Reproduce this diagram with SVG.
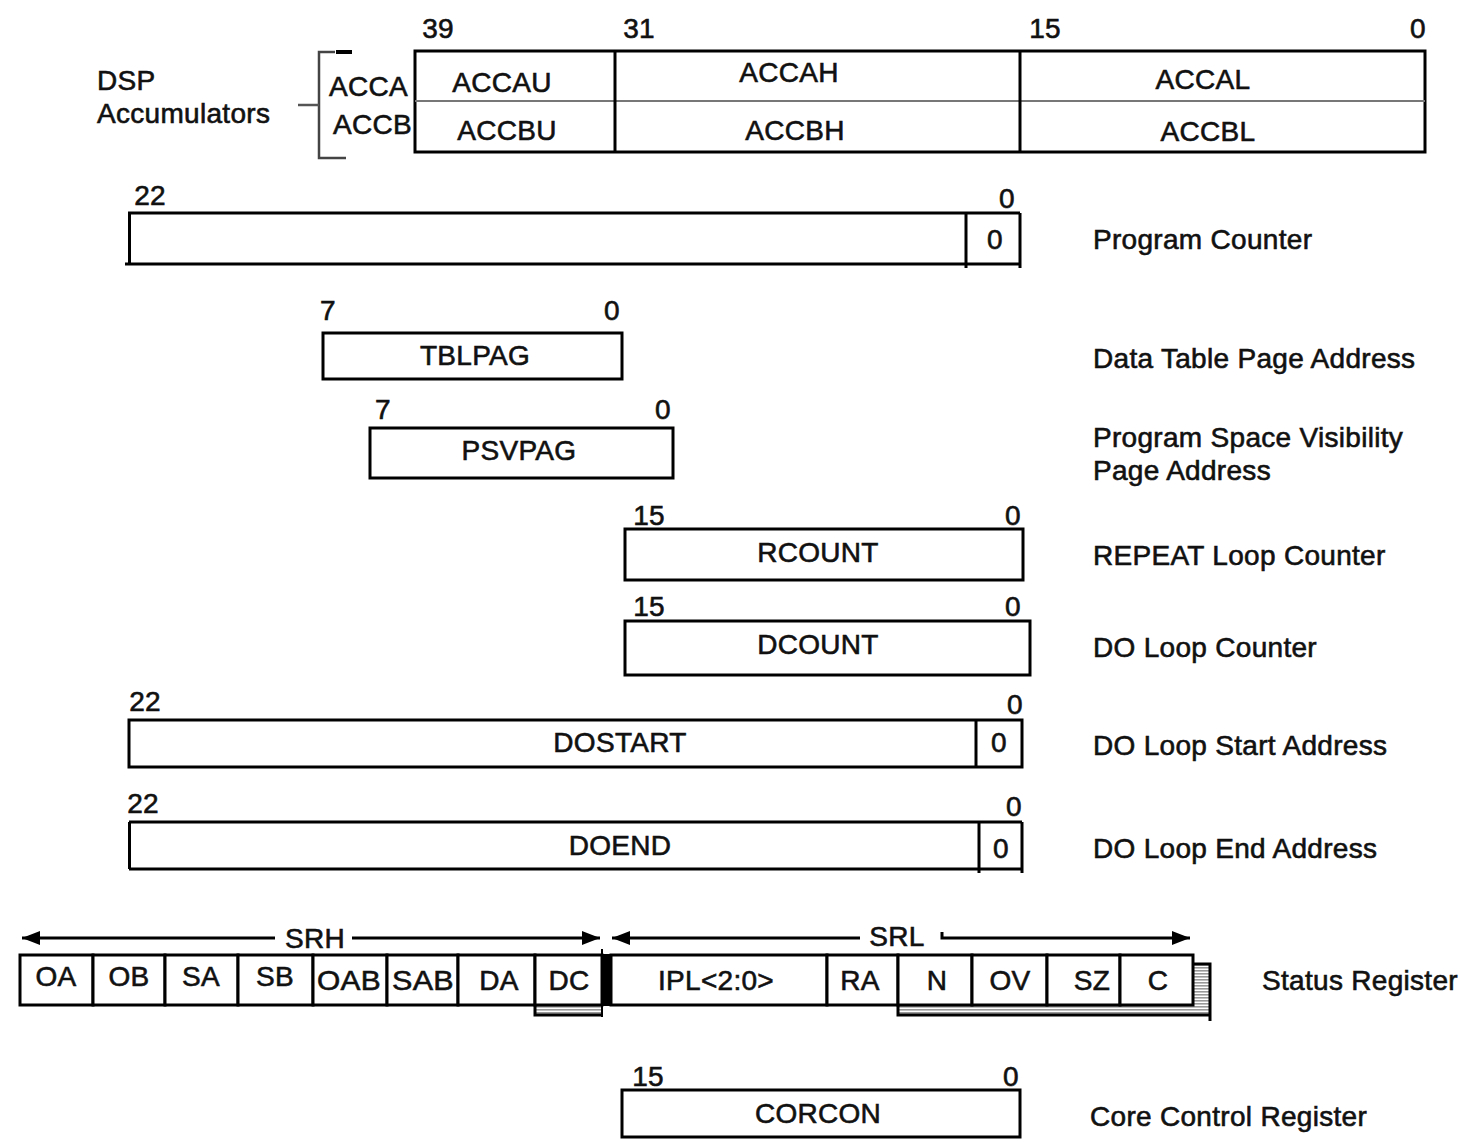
<svg xmlns="http://www.w3.org/2000/svg" width="1460" height="1147" viewBox="0 0 1460 1147">
<style>
.t{font-family:"Liberation Sans",Arial,sans-serif;font-size:28px;fill:#111;stroke:#111;stroke-width:0.6;letter-spacing:0.3px}
.m{text-anchor:middle}
.b{fill:none;stroke:#000;stroke-width:3}
.c{fill:#fff;stroke:#000;stroke-width:3}
.ln{stroke:#000;stroke-width:3;fill:none}
</style>
<defs>
<marker id="ah" viewBox="0 0 18 14" refX="18" refY="7" markerWidth="18" markerHeight="14" orient="auto-start-reverse" markerUnits="userSpaceOnUse">
<path d="M0,0 L18,7 L0,14 z" fill="#000"/>
</marker>
<pattern id="hatch" width="4" height="3" patternUnits="userSpaceOnUse">
<rect width="4" height="3" fill="#fff"/>
<rect y="1" width="4" height="1.6" fill="#999"/>
</pattern>
</defs>
<rect width="1460" height="1147" fill="#fff"/>

<g id="accumulators">
<text class="t" x="97" y="90">DSP</text>
<text class="t" x="97" y="123">Accumulators</text>
<path d="M335,52 L319,52 L319,158 L346,158" fill="none" stroke="#444" stroke-width="2.5"/>
<path d="M336,52 L352,52" stroke="#000" stroke-width="4"/>
<path d="M298,105 L319,105" stroke="#555" stroke-width="2.5"/>
<text class="t" x="329" y="96">ACCA</text>
<text class="t" x="333" y="134">ACCB</text>
<text class="t m" x="438" y="38">39</text>
<text class="t m" x="639" y="38">31</text>
<text class="t m" x="1045" y="38">15</text>
<text class="t m" x="1418" y="38">0</text>
<rect class="b" x="415" y="51" width="1010" height="101"/>
<line x1="415" y1="101" x2="1425" y2="101" stroke="#777" stroke-width="2"/>
<line class="ln" x1="615" y1="51" x2="615" y2="152"/>
<line class="ln" x1="1020" y1="51" x2="1020" y2="152"/>
<text class="t m" x="502" y="92">ACCAU</text>
<text class="t m" x="789" y="82">ACCAH</text>
<text class="t m" x="1203" y="89">ACCAL</text>
<text class="t m" x="507" y="140">ACCBU</text>
<text class="t m" x="795" y="140">ACCBH</text>
<text class="t m" x="1208" y="141">ACCBL</text>
</g>

<g id="pc">
<text class="t m" x="150" y="205">22</text>
<text class="t m" x="1007" y="208">0</text>
<path class="ln" d="M128,213 H1020 M125,264 H1020 M129.5,213 V264 M1020,213 V268 M966,213 V268"/>
<text class="t m" x="995" y="249">0</text>
<text class="t" x="1093" y="249">Program Counter</text>
</g>

<g id="tblpag">
<text class="t m" x="328" y="320">7</text>
<text class="t m" x="612" y="320">0</text>
<rect class="b" x="323" y="333" width="299" height="46"/>
<text class="t m" x="475" y="365">TBLPAG</text>
<text class="t" x="1093" y="368">Data Table Page Address</text>
</g>

<g id="psvpag">
<text class="t m" x="383" y="419">7</text>
<text class="t m" x="663" y="419">0</text>
<rect class="b" x="370" y="428" width="303" height="50"/>
<text class="t m" x="519" y="460">PSVPAG</text>
<text class="t" x="1093" y="447">Program Space Visibility</text>
<text class="t" x="1093" y="480">Page Address</text>
</g>

<g id="rcount">
<text class="t m" x="649" y="525">15</text>
<text class="t m" x="1013" y="525">0</text>
<rect class="b" x="625" y="529" width="398" height="51"/>
<text class="t m" x="818" y="562">RCOUNT</text>
<text class="t" x="1093" y="565">REPEAT Loop Counter</text>
</g>

<g id="dcount">
<text class="t m" x="649" y="616">15</text>
<text class="t m" x="1013" y="616">0</text>
<rect class="b" x="625" y="621" width="405" height="54"/>
<text class="t m" x="818" y="654">DCOUNT</text>
<text class="t" x="1093" y="657">DO Loop Counter</text>
</g>

<g id="dostart">
<text class="t m" x="145" y="711">22</text>
<text class="t m" x="1015" y="714">0</text>
<rect class="b" x="129" y="720" width="893" height="47"/>
<line class="ln" x1="976" y1="720" x2="976" y2="767"/>
<text class="t m" x="620" y="752">DOSTART</text>
<text class="t m" x="999" y="752">0</text>
<text class="t" x="1093" y="755">DO Loop Start Address</text>
</g>

<g id="doend">
<text class="t m" x="143" y="813">22</text>
<text class="t m" x="1014" y="816">0</text>
<path class="ln" d="M129,822 H1022 M129,869 H1022 M129.5,822 V869 M1022,822 V873 M979,822 V873"/>
<text class="t m" x="620" y="855">DOEND</text>
<text class="t m" x="1001" y="858">0</text>
<text class="t" x="1093" y="858">DO Loop End Address</text>
</g>

<g id="connectors">
<line class="ln" x1="22" y1="938" x2="275" y2="938" marker-start="url(#ah)"/>
<line class="ln" x1="352" y1="938" x2="600" y2="938" marker-end="url(#ah)"/>
<line class="ln" x1="612" y1="938" x2="860" y2="938" marker-start="url(#ah)"/>
<path class="ln" d="M942,932 V938 H1190" marker-end="url(#ah)"/>
</g>

<g id="status">
<text class="t m" x="315" y="948">SRH</text>
<text class="t m" x="897" y="946">SRL</text>
<rect x="535" y="1005" width="67" height="10" fill="url(#hatch)"/>
<path class="ln" d="M535,1005 V1015 H602"/>
<path d="M898,1005 H1193 V964 H1210 V1015 H898 Z" fill="url(#hatch)"/>
<path class="ln" d="M898,1005 V1015 H1210 M1193,964 H1210 V1021"/>
<rect class="c" x="20" y="955" width="73" height="50"/>
<rect class="c" x="93" y="955" width="72" height="50"/>
<rect class="c" x="165" y="955" width="73" height="50"/>
<rect class="c" x="238" y="955" width="75" height="50"/>
<rect class="c" x="313" y="955" width="74" height="50"/>
<rect class="c" x="387" y="955" width="71" height="50"/>
<rect class="c" x="458" y="955" width="77" height="50"/>
<rect class="c" x="535" y="955" width="67" height="50"/>
<rect class="c" x="611" y="955" width="216" height="50"/>
<rect class="c" x="827" y="955" width="71" height="50"/>
<rect class="c" x="898" y="955" width="74" height="50"/>
<rect class="c" x="972" y="955" width="75" height="50"/>
<rect class="c" x="1047" y="955" width="73" height="50"/>
<rect class="c" x="1120" y="955" width="73" height="50"/>
<rect x="601" y="954" width="10" height="52" fill="#000"/>
<line x1="602" y1="949" x2="602" y2="1017" stroke="#000" stroke-width="2"/>
<text class="t m" x="56" y="986">OA</text>
<text class="t m" x="129" y="986">OB</text>
<text class="t m" x="201" y="986">SA</text>
<text class="t m" x="275" y="986">SB</text>
<text class="t m" x="349" y="990" textLength="64" lengthAdjust="spacingAndGlyphs">OAB</text>
<text class="t m" x="423" y="990" textLength="62" lengthAdjust="spacingAndGlyphs">SAB</text>
<text class="t m" x="499" y="990">DA</text>
<text class="t m" x="569" y="990">DC</text>
<text class="t m" x="716" y="990">IPL&lt;2:0&gt;</text>
<text class="t m" x="860" y="990">RA</text>
<text class="t m" x="937" y="990">N</text>
<text class="t m" x="1010" y="990">OV</text>
<text class="t m" x="1092" y="990">SZ</text>
<text class="t m" x="1158" y="990">C</text>
<text class="t" x="1262" y="990">Status Register</text>
</g>

<g id="corcon">
<text class="t m" x="648" y="1086">15</text>
<text class="t m" x="1011" y="1086">0</text>
<rect class="b" x="622" y="1090" width="398" height="47"/>
<text class="t m" x="818" y="1123">CORCON</text>
<text class="t" x="1090" y="1126">Core Control Register</text>
</g>
</svg>
